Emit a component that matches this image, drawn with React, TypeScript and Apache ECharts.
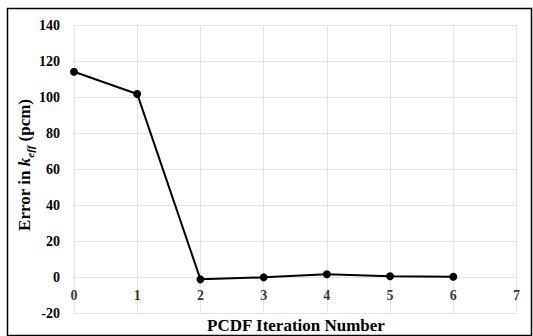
import React, { useEffect, useRef } from "react";
import * as echarts from "echarts";

const iterations = [0, 1, 2, 3, 4, 5, 6];
const errorPcm = [114, 101.7, -1.3, -0.2, 1.5, 0.4, 0.1];
const xTickLabels = [0, 1, 2, 3, 4, 5, 6, 7];
const xTicks = { min: 0, max: 7, interval: 1 };
const yTicks = { min: -20, max: 140, interval: 20 };

const FONT = "'Liberation Serif', 'Times New Roman', serif";

export default function App() {
  const ref = useRef<HTMLDivElement>(null);
  useEffect(() => {
    if (!ref.current) return;
    const chart = echarts.init(ref.current, undefined, { renderer: "svg" });
    chart.setOption({
      animation: false,
      backgroundColor: "#ffffff",
      grid: { left: 74, right: 16.5, top: 25, bottom: 23 },
      xAxis: {
        type: "value",
        min: xTicks.min,
        max: xTicks.max,
        interval: xTicks.interval,
        axisLine: { show: false },
        axisTick: { show: false },
        axisLabel: { show: false },
        splitLine: { show: true, lineStyle: { color: "#e3e3e3", width: 1 } },
      },
      yAxis: {
        type: "value",
        min: yTicks.min,
        max: yTicks.max,
        interval: yTicks.interval,
        axisLine: { show: false, onZero: false },
        axisTick: { show: false },
        axisLabel: { margin: 14, color: "#000", fontFamily: FONT, fontWeight: "bold", fontSize: 14 },
        splitLine: { show: true, lineStyle: { color: "#e3e3e3", width: 1 } },
      },
      series: [
        {
          type: "scatter",
          data: xTickLabels.map((x) => [x, 0]),
          symbolSize: 0,
          clip: false,
          silent: true,
          z: 1,
          label: {
            show: true,
            position: "bottom",
            distance: 11,
            formatter: (p: any) => String(p.value[0]),
            color: "#000",
            fontFamily: FONT,
            fontWeight: "bold",
            fontSize: 14,
          },
        },
        {
          type: "line",
          data: iterations.map((x, i) => [x, errorPcm[i]]),
          symbol: "circle",
          symbolSize: 8,
          itemStyle: { color: "#000" },
          lineStyle: { color: "#000", width: 2 },
          z: 3,
        },
      ],
      graphic: [
        {
          type: "rect",
          shape: { x: 7.5, y: 8.5, width: 524, height: 327 },
          style: { fill: "none", stroke: "#000", lineWidth: 1.5 },
          z: 10,
        },
        {
          type: "text",
          x: 296,
          y: 325,
          style: {
            text: "PCDF Iteration Number",
            font: `bold 17px ${FONT}`,
            fill: "#000",
            align: "center",
            verticalAlign: "middle",
          },
        },
        {
          type: "text",
          x: 24,
          y: 165,
          rotation: Math.PI / 2,
          style: {
            text: "{n|Error in }{k|k}{s|eff}{n| (pcm)}",
            align: "center",
            verticalAlign: "middle",
            fill: "#000",
            rich: {
              n: { font: `bold 17px ${FONT}`, fill: "#000", verticalAlign: "bottom" },
              k: { font: `italic bold 17px ${FONT}`, fill: "#000", verticalAlign: "bottom" },
              s: { font: `italic bold 11px ${FONT}`, fill: "#000", verticalAlign: "bottom", padding: [0, 0, -3, 0] },
            },
          },
        },
      ],
    });
    return () => chart.dispose();
  }, []);
  return (
    <div
      ref={ref}
      style={{ position: "fixed", left: 0, top: 0, width: 533, height: 336 }}
    />
  );
}
